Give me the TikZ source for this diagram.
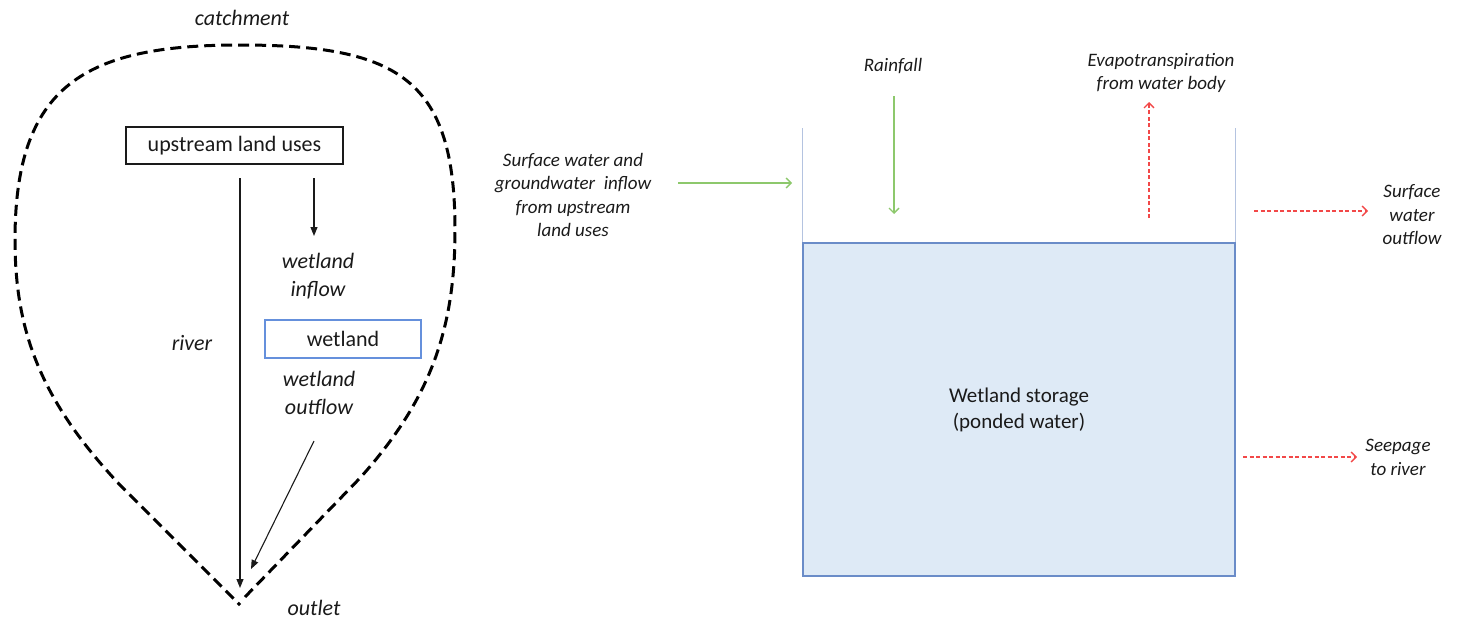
\documentclass[tikz,border=0pt]{standalone}
\usepackage{fontspec}
\setmainfont{Carlito}
\usetikzlibrary{arrows.meta}
\definecolor{waterfill}{HTML}{DEEAF6}
\definecolor{waterline}{HTML}{6A8CC8}
\definecolor{wallline}{HTML}{B4C3E0}
\definecolor{flowgreen}{HTML}{8DC86C}
\definecolor{lossred}{HTML}{F24848}
\definecolor{wetblue}{HTML}{6590DC}
\definecolor{ink}{HTML}{1A1A1A}
\begin{document}
\begin{tikzpicture}[x=1pt,y=-1pt,
  bigtext/.style={font=\fontsize{22}{28}\selectfont, text=ink, inner sep=0pt, align=center},
  biglabel/.style={font=\fontsize{22}{28}\selectfont\itshape, text=ink, inner sep=0pt, align=center},
  smalllabel/.style={font=\fontsize{19}{23.5}\selectfont\itshape, text=ink, inner sep=0pt, align=center},
  landbox/.style={bigtext, draw=ink, line width=1.2pt, minimum width=217pt, minimum height=37pt},
  wetbox/.style={bigtext, draw=wetblue, line width=1.2pt, minimum width=156pt, minimum height=38pt},
  boundary/.style={draw=black, line width=3pt, dash pattern=on 11pt off 6pt},
  blackflow/.style={draw=ink, line width=1.1pt, -{Triangle[length=9pt,width=7pt]}},
  greenflow/.style={draw=flowgreen, line width=1.4pt, -{Straight Barb[length=5pt,width=10pt]}},
  redflow/.style={draw=lossred, line width=1.3pt, dash pattern=on 4pt off 2.5pt, -{Straight Barb[length=5pt,width=10pt]}},
  waterbody/.style={fill=waterfill, draw=waterline, line width=1.2pt, minimum width=432pt, minimum height=333pt,
    font=\fontsize{21}{26}\selectfont, text=ink, align=center},
  wall/.style={draw=wallline, line width=1.2pt}
]
\useasboundingbox (0,0) rectangle (1464,624);

% ---------- catchment sketch ----------
\node[biglabel] (catch) at (242,18) {catchment};
\draw[boundary] (245,597) -- (360,478)
  .. controls (430,400) and (455,330) .. (455,230)
  .. controls (455,80) and (400,45) .. (240,45)
  .. controls (85,45) and (15,85) .. (15,240)
  .. controls (15,330) and (40,400) .. (120,485) -- (240,605);

\node[landbox] (ulu) at (234.5,145.5) {upstream land uses};
\node[wetbox] (wet) at (343,339) {wetland};
\node[biglabel] (inlab) at (318,276) {wetland\\inflow};
\node[biglabel] (outlab) at (319,392.5) {wetland\\outflow};
\node[biglabel] (riverlab) at (192,343) {river};
\node[biglabel] (outletlab) at (314,608) {outlet};

\coordinate (riverTop) at (240,178);
\coordinate (riverEnd) at (240,588);
\coordinate (inTop) at (314,178);
\coordinate (inEnd) at (314,236);
\coordinate (outTop) at (314,441);
\coordinate (outEnd) at (251,569);

\draw[blackflow] (riverTop) -- (riverEnd);
\draw[blackflow] (inTop) -- (inEnd);
\draw[blackflow] (outTop) -- (outEnd);

% ---------- wetland water balance ----------
\node[waterbody] (store) at (1019,409.5) {Wetland storage\\(ponded water)};
\draw[wall] (store.north west) -- ++(0,-114);
\draw[wall] (store.north east) -- ++(0,-114);

\node[smalllabel] (surfin) at (573,195) {Surface water and\\groundwater\ \ inflow\\from upstream\\land uses};
\node[smalllabel] (rain) at (893,66) {Rainfall};
\node[smalllabel] (evap) at (1161,73) {Evapotranspiration\\from water body};
\node[smalllabel] (swout) at (1412,215) {Surface\\water\\outflow};
\node[smalllabel] (seep) at (1398,457.5) {Seepage\\to river};

\coordinate (gIn1) at (678,183);
\coordinate (gIn2) at (792,183);
\coordinate (rain1) at (894,96);
\coordinate (rain2) at (894,214);
\coordinate (evap1) at (1149,218);
\coordinate (evap2) at (1149,102);
\coordinate (sw1) at (1254,211);
\coordinate (sw2) at (1368,211);
\coordinate (sp1) at (1243,457);
\coordinate (sp2) at (1357,457);

\draw[greenflow] (gIn1) -- (gIn2);
\draw[greenflow] (rain1) -- (rain2);
\draw[redflow] (evap1) -- (evap2);
\draw[redflow] (sw1) -- (sw2);
\draw[redflow] (sp1) -- (sp2);
\end{tikzpicture}
\end{document}
